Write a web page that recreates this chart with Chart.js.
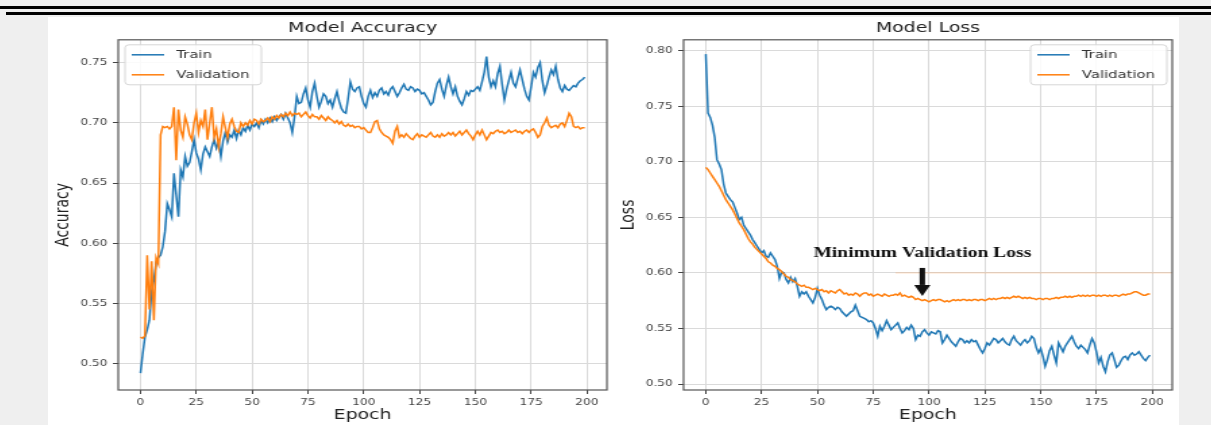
<!DOCTYPE html>
<html>
<head>
<meta charset="utf-8">
<script src="https://cdn.jsdelivr.net/npm/chart.js@4.4.1/dist/chart.umd.min.js"></script>
<style>
  body { margin: 0; background: #efefef; width: 1211px; height: 425px; overflow: hidden; position: relative; }
  .rule { position: absolute; background: #000; height: 3px; }
  .sheet { position: absolute; left: 48px; top: 17px; width: 1131px; height: 408px; background: #fff; }
  .wrap { position: absolute; top: 15px; transform: scaleX(1.35); transform-origin: 0 0; }
</style>
</head>
<body>
<div class="rule" style="left:0;right:0;top:6px"></div>
<div class="rule" style="left:6px;right:0;top:12px"></div>
<div class="sheet"></div>
<div class="wrap" style="left:44px"><canvas id="acc" width="420" height="410"></canvas></div>
<div class="wrap" style="left:612px"><canvas id="loss" width="419" height="410"></canvas></div>

<script>
Chart.defaults.font.family = '"DejaVu Sans", sans-serif';
Chart.defaults.color = '#444';

// values, one per epoch
const trainAcc = [
  0.492, 0.508, 0.522, 0.528, 0.536, 0.560, 0.569, 0.584, 0.588, 0.590,
  0.597, 0.610, 0.633, 0.628, 0.622, 0.658, 0.640, 0.622, 0.661, 0.655,
  0.672, 0.664, 0.667, 0.676, 0.686, 0.675, 0.670, 0.661, 0.674, 0.680,
  0.676, 0.672, 0.680, 0.686, 0.679, 0.684, 0.672, 0.685, 0.692, 0.684,
  0.690, 0.688, 0.694, 0.687, 0.694, 0.690, 0.696, 0.693, 0.698, 0.694,
  0.699, 0.697, 0.700, 0.696, 0.702, 0.699, 0.703, 0.700, 0.704, 0.701,
  0.705, 0.702, 0.705, 0.707, 0.703, 0.708, 0.704, 0.700, 0.692, 0.705,
  0.722, 0.716, 0.717, 0.724, 0.729, 0.719, 0.713, 0.726, 0.733, 0.722,
  0.713, 0.718, 0.724, 0.722, 0.716, 0.719, 0.713, 0.720, 0.726, 0.718,
  0.712, 0.709, 0.708, 0.720, 0.734, 0.728, 0.726, 0.729, 0.730, 0.722,
  0.716, 0.713, 0.722, 0.727, 0.721, 0.725, 0.722, 0.727, 0.729, 0.724,
  0.726, 0.723, 0.728, 0.730, 0.726, 0.722, 0.725, 0.729, 0.732, 0.728,
  0.727, 0.730, 0.729, 0.726, 0.728, 0.727, 0.724, 0.725, 0.722, 0.719,
  0.715, 0.717, 0.726, 0.733, 0.736, 0.728, 0.722, 0.731, 0.738, 0.730,
  0.724, 0.730, 0.722, 0.718, 0.715, 0.720, 0.726, 0.723, 0.727, 0.726,
  0.728, 0.730, 0.727, 0.734, 0.742, 0.755, 0.738, 0.730, 0.735, 0.730,
  0.741, 0.747, 0.732, 0.719, 0.728, 0.735, 0.742, 0.733, 0.730, 0.737,
  0.744, 0.736, 0.728, 0.722, 0.719, 0.730, 0.742, 0.738, 0.746, 0.750,
  0.735, 0.725, 0.731, 0.738, 0.744, 0.740, 0.747, 0.736, 0.729, 0.726,
  0.731, 0.728, 0.727, 0.729, 0.731, 0.730, 0.733, 0.735, 0.736, 0.738
];
const valAcc = [
  0.522, 0.521, 0.523, 0.590, 0.545, 0.585, 0.536, 0.588, 0.583, 0.690,
  0.697, 0.696, 0.697, 0.695, 0.697, 0.713, 0.669, 0.711, 0.694, 0.688,
  0.705, 0.699, 0.690, 0.686, 0.700, 0.708, 0.692, 0.702, 0.697, 0.711,
  0.686, 0.700, 0.713, 0.688, 0.695, 0.680, 0.691, 0.705, 0.696, 0.688,
  0.699, 0.703, 0.697, 0.693, 0.692, 0.700, 0.697, 0.700, 0.698, 0.702,
  0.699, 0.703, 0.702, 0.699, 0.703, 0.701, 0.702, 0.704, 0.701, 0.705,
  0.703, 0.706, 0.704, 0.707, 0.705, 0.708, 0.706, 0.709, 0.706, 0.708,
  0.707, 0.708, 0.705, 0.707, 0.709, 0.706, 0.704, 0.707, 0.705, 0.705,
  0.703, 0.706, 0.704, 0.702, 0.705, 0.703, 0.702, 0.700, 0.702, 0.699,
  0.701, 0.698, 0.697, 0.699, 0.697, 0.698, 0.696, 0.697, 0.697, 0.695,
  0.696, 0.694, 0.692, 0.692, 0.696, 0.701, 0.702, 0.695, 0.692, 0.690,
  0.689, 0.688, 0.686, 0.683, 0.693, 0.697, 0.688, 0.690, 0.688, 0.691,
  0.689, 0.687, 0.686, 0.689, 0.691, 0.688, 0.690, 0.689, 0.688, 0.690,
  0.692, 0.689, 0.688, 0.690, 0.688, 0.691, 0.689, 0.690, 0.692, 0.690,
  0.692, 0.689, 0.691, 0.693, 0.690, 0.692, 0.694, 0.691, 0.689, 0.686,
  0.690, 0.693, 0.690, 0.694, 0.690, 0.686, 0.689, 0.692, 0.691, 0.693,
  0.694, 0.692, 0.693, 0.691, 0.692, 0.694, 0.692, 0.693, 0.694, 0.692,
  0.693, 0.691, 0.693, 0.694, 0.692, 0.694, 0.695, 0.692, 0.688, 0.690,
  0.697, 0.700, 0.704, 0.698, 0.696, 0.697, 0.698, 0.696, 0.699, 0.700,
  0.697, 0.702, 0.708, 0.705, 0.697, 0.696, 0.697, 0.695, 0.696, 0.696
];
const trainLoss = [
  0.797, 0.744, 0.740, 0.733, 0.722, 0.702, 0.698, 0.693, 0.680, 0.672,
  0.669, 0.666, 0.664, 0.659, 0.654, 0.648, 0.650, 0.643, 0.640, 0.637,
  0.634, 0.630, 0.627, 0.624, 0.621, 0.618, 0.620, 0.615, 0.614, 0.618,
  0.615, 0.612, 0.606, 0.595, 0.601, 0.600, 0.594, 0.591, 0.596, 0.592,
  0.595, 0.588, 0.579, 0.583, 0.581, 0.583, 0.579, 0.576, 0.573, 0.578,
  0.586, 0.580, 0.576, 0.571, 0.567, 0.569, 0.570, 0.569, 0.567, 0.569,
  0.568, 0.565, 0.563, 0.561, 0.563, 0.565, 0.566, 0.571, 0.566, 0.561,
  0.560, 0.559, 0.558, 0.556, 0.557, 0.555, 0.550, 0.543, 0.552, 0.548,
  0.552, 0.557, 0.553, 0.549, 0.551, 0.553, 0.555, 0.550, 0.546, 0.548,
  0.551, 0.549, 0.553, 0.550, 0.540, 0.544, 0.543, 0.547, 0.549, 0.546,
  0.544, 0.547, 0.546, 0.545, 0.548, 0.547, 0.537, 0.540, 0.544, 0.541,
  0.538, 0.536, 0.534, 0.538, 0.541, 0.540, 0.537, 0.539, 0.537, 0.540,
  0.538, 0.539, 0.535, 0.531, 0.528, 0.532, 0.537, 0.535, 0.538, 0.541,
  0.540, 0.537, 0.539, 0.541, 0.538, 0.536, 0.535, 0.540, 0.543, 0.539,
  0.537, 0.535, 0.538, 0.540, 0.537, 0.539, 0.543, 0.541, 0.533, 0.528,
  0.532, 0.525, 0.516, 0.522, 0.530, 0.534, 0.526, 0.519, 0.537, 0.533,
  0.529, 0.534, 0.537, 0.540, 0.543, 0.538, 0.534, 0.532, 0.535, 0.533,
  0.531, 0.528, 0.535, 0.541, 0.537, 0.529, 0.519, 0.524, 0.516, 0.511,
  0.520, 0.526, 0.528, 0.522, 0.515, 0.517, 0.521, 0.524, 0.525, 0.522,
  0.526, 0.528, 0.526, 0.527, 0.529, 0.526, 0.523, 0.521, 0.524, 0.526
];
const valLoss = [
  0.695, 0.693, 0.690, 0.687, 0.684, 0.681, 0.678, 0.674, 0.670, 0.666,
  0.663, 0.660, 0.657, 0.653, 0.649, 0.645, 0.642, 0.639, 0.635, 0.631,
  0.628, 0.626, 0.623, 0.621, 0.619, 0.617, 0.615, 0.613, 0.610, 0.609,
  0.607, 0.606, 0.604, 0.603, 0.601, 0.599, 0.597, 0.596, 0.594, 0.593,
  0.592, 0.590, 0.589, 0.588, 0.589, 0.587, 0.587, 0.586, 0.585, 0.586,
  0.585, 0.584, 0.585, 0.583, 0.584, 0.582, 0.584, 0.583, 0.582, 0.584,
  0.585, 0.583, 0.581, 0.582, 0.580, 0.581, 0.580, 0.582, 0.581, 0.579,
  0.581, 0.582, 0.582, 0.580, 0.581, 0.579, 0.580, 0.581, 0.580, 0.579,
  0.581, 0.580, 0.579, 0.580, 0.580, 0.581, 0.580, 0.582, 0.579, 0.580,
  0.579, 0.578, 0.579, 0.578, 0.576, 0.577, 0.576, 0.575, 0.576, 0.575,
  0.574, 0.575, 0.576, 0.575, 0.576, 0.576, 0.575, 0.574, 0.575, 0.574,
  0.575, 0.576, 0.575, 0.576, 0.575, 0.576, 0.576, 0.575, 0.576, 0.575,
  0.576, 0.576, 0.575, 0.576, 0.576, 0.575, 0.576, 0.577, 0.576, 0.577,
  0.576, 0.577, 0.577, 0.578, 0.577, 0.578, 0.577, 0.578, 0.579, 0.578,
  0.579, 0.578, 0.577, 0.578, 0.577, 0.578, 0.577, 0.577, 0.576, 0.577,
  0.577, 0.576, 0.577, 0.577, 0.576, 0.577, 0.577, 0.578, 0.577, 0.578,
  0.578, 0.579, 0.578, 0.579, 0.578, 0.579, 0.579, 0.580, 0.579, 0.580,
  0.579, 0.580, 0.579, 0.580, 0.580, 0.579, 0.580, 0.579, 0.580, 0.580,
  0.579, 0.580, 0.579, 0.580, 0.580, 0.579, 0.580, 0.581, 0.580, 0.581,
  0.581, 0.582, 0.583, 0.583, 0.582, 0.581, 0.580, 0.580, 0.581, 0.581
];
const epochs = trainAcc.map((_, i) => i);

const epochTicks = [0, 25, 50, 75, 100, 125, 150, 175, 200];
const accTicks = [0.50, 0.55, 0.60, 0.65, 0.70, 0.75];
const lossTicks = [0.50, 0.55, 0.60, 0.65, 0.70, 0.75, 0.80];

// the note over the loss curve (epoch / loss units)
const noteText = 'Minimum Validation Loss';
const noteEpoch = 97;
const noteLoss = 0.618;
const arrowFrom = 0.6045;
const arrowTo = 0.5793;
const guideLoss = 0.60;
const guideFrom = 85;

const BLUE = '#1f77b4';
const ORANGE = '#ff7f0e';

// matplotlib-like box round the axes
const frame = {
  id: 'frame',
  afterDatasetsDraw(chart) {
    const { ctx, chartArea: a } = chart;
    ctx.save();
    ctx.strokeStyle = '#555';
    ctx.lineWidth = 1.2;
    ctx.strokeRect(a.left, a.top, a.right - a.left, a.bottom - a.top);
    ctx.restore();
  }
};

// legend inside the plot, in a rounded box
const boxLegend = {
  id: 'boxLegend',
  afterDraw(chart, args, opts) {
    const { ctx, chartArea: a } = chart;
    const w = 101, h = 40;
    const x = opts.side === 'right' ? a.right - 4 - w : a.left + 5;
    const y = a.top + 5;
    ctx.save();
    ctx.fillStyle = 'rgba(255,255,255,0.85)';
    ctx.strokeStyle = '#d6d6d6';
    ctx.lineWidth = 1;
    ctx.beginPath();
    ctx.roundRect(x, y, w, h, 3);
    ctx.fill();
    ctx.stroke();
    ctx.font = '11px "DejaVu Sans"';
    ctx.textBaseline = 'middle';
    chart.data.datasets.forEach((ds, i) => {
      const ly = y + 10 + i * 20;
      ctx.strokeStyle = ds.borderColor;
      ctx.lineWidth = 1.5;
      ctx.beginPath();
      ctx.moveTo(x + 5, ly);
      ctx.lineTo(x + 29, ly);
      ctx.stroke();
      ctx.fillStyle = '#333';
      ctx.fillText(ds.label, x + 38, ly);
    });
    ctx.restore();
  }
};

const minNote = {
  id: 'minNote',
  beforeDatasetsDraw(chart) {
    const { ctx, chartArea: a, scales } = chart;
    const gy = scales.y.getPixelForValue(guideLoss);
    ctx.save();
    ctx.strokeStyle = 'rgba(255,150,70,0.35)';
    ctx.lineWidth = 1;
    ctx.beginPath();
    ctx.moveTo(scales.x.getPixelForValue(guideFrom), gy);
    ctx.lineTo(a.right, gy);
    ctx.stroke();
    ctx.restore();
  },
  afterDatasetsDraw(chart) {
    const { ctx, scales } = chart;
    const x = scales.x.getPixelForValue(noteEpoch);
    const top = scales.y.getPixelForValue(arrowFrom);
    const tip = scales.y.getPixelForValue(arrowTo);
    ctx.save();
    ctx.fillStyle = '#111';
    ctx.font = 'bold 14.5px "Liberation Serif"';
    ctx.textAlign = 'center';
    ctx.textBaseline = 'middle';
    ctx.fillText(noteText, x, scales.y.getPixelForValue(noteLoss));
    const head = 11;
    ctx.fillRect(x - 2, top, 4, tip - head - top);
    ctx.beginPath();
    ctx.moveTo(x - 6, tip - head);
    ctx.lineTo(x + 6, tip - head);
    ctx.lineTo(x, tip);
    ctx.closePath();
    ctx.fill();
    ctx.restore();
  }
};

function makeChart(id, title, yLabel, train, val, yMin, yMax, yTicks, axisWidth, yTitlePad, padRight, legendSide, extra) {
  return new Chart(document.getElementById(id), {
    type: 'line',
    data: {
      labels: epochs,
      datasets: [
        { label: 'Train', data: train, borderColor: BLUE, borderWidth: 1.5, pointRadius: 0, tension: 0, order: 1 },
        { label: 'Validation', data: val, borderColor: ORANGE, borderWidth: 1.5, pointRadius: 0, tension: 0, order: 0 }
      ]
    },
    options: {
      responsive: false,
      animation: false,
      layout: { padding: { left: 0, right: padRight, top: 0, bottom: 0 } },
      plugins: {
        legend: { display: false },
        tooltip: { enabled: false },
        title: {
          display: true, text: title, fullSize: false, color: '#222',
          font: { size: 14, weight: 'normal' }, padding: { top: 5, bottom: 3 }
        },
        boxLegend: { side: legendSide }
      },
      scales: {
        x: {
          type: 'linear', min: -9.95, max: 208.95,
          afterFit: s => { s.height = 35; },
          afterBuildTicks: s => { s.ticks = epochTicks.map(v => ({ value: v })); },
          ticks: { font: { size: 9 }, padding: 3, maxRotation: 0, autoSkip: false, color: '#444' },
          grid: { color: '#dadada', lineWidth: 1, tickLength: 4, tickColor: '#444' },
          border: { display: false },
          title: { display: true, text: 'Epoch', color: '#222', font: { size: 14 }, padding: { top: 0, bottom: 1.6 } }
        },
        y: {
          type: 'linear', min: yMin, max: yMax,
          afterFit: s => { s.width = axisWidth; },
          afterBuildTicks: s => { s.ticks = yTicks.map(v => ({ value: v })); },
          ticks: { font: { size: 9 }, padding: 4, color: '#444', callback: v => v.toFixed(2) },
          grid: { color: '#dadada', lineWidth: 1, tickLength: 4, tickColor: '#444' },
          border: { display: false },
          title: { display: true, text: yLabel, color: '#222', font: { size: 14 }, padding: { top: yTitlePad, bottom: 0 } }
        }
      }
    },
    plugins: [frame, boxLegend].concat(extra)
  });
}

makeChart('acc', 'Model Accuracy', 'Accuracy', trainAcc, valAcc, 0.478, 0.769, accTicks, 55, 6.4, 3, 'left', []);
makeChart('loss', 'Model Loss', 'Loss', trainLoss, valLoss, 0.4946, 0.8099, lossTicks, 53, 4, 4, 'right', [minNote]);
</script>
</body>
</html>
